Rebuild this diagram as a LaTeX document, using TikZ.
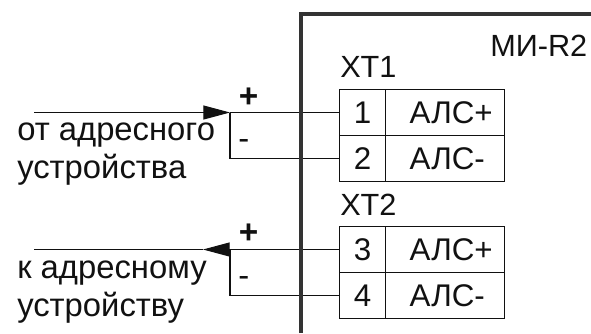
\documentclass[tikz,border=0pt]{standalone}
\usepackage{fontspec}
\setmainfont{Liberation Sans}
\usetikzlibrary{arrows.meta}
\definecolor{framegray}{HTML}{333333}
\definecolor{inkgray}{HTML}{111111}
\tikzset{
    wire/.style={draw=inkgray,line width=0.8pt},
    wiretip/.style={wire,-{Triangle[length=20pt,width=10.5pt]}},
    numcell/.style={draw=inkgray,line width=0.95pt,minimum width=34.5pt,minimum height=34.1pt,inner sep=0pt,text=inkgray,font=\fontsize{23.5}{24}\selectfont},
    alscell/.style={draw=inkgray,line width=0.95pt,minimum height=34.1pt,text width=70.9pt,inner xsep=9pt,inner ysep=0pt,align=left,text=inkgray,font=\fontsize{23.5}{24}\selectfont,execute at begin node=\hspace*{9pt}},
    caption/.style={anchor=base west,inner sep=0pt,text=inkgray,font=\fontsize{24.6}{28.5}\selectfont,align=left},
    titlecap/.style={caption,font=\fontsize{23}{28.5}\selectfont},
}
\begin{document}
\begin{tikzpicture}[x=0.75pt,y=-0.75pt]
        \useasboundingbox (0,0) rectangle (591,333);
        \node[numcell] (n1) at (362.5,112.5) {1};
        \node[numcell] (n2) at (362.5,158.5) {2};
        \node[numcell] (n3) at (362.5,249.5) {3};
        \node[numcell] (n4) at (362.5,295.5) {4};
        \node[alscell] (als1) at (445,112.5) {АЛС+};
        \node[alscell] (als2) at (445,158.5) {АЛС-};
        \node[alscell] (als3) at (445,249.5) {АЛС+};
        \node[alscell] (als4) at (445,295.5) {АЛС-};
        \coordinate (src1) at (34,112.5);
        \coordinate (tip1) at (230,112.5);
        \coordinate (src2) at (34,249.5);
        \coordinate (tip2) at (203,249.5);
        \coordinate (base2) at (230,249.5);
        \draw[wiretip] (src1) -- (tip1);
        \draw[wire] (tip1) -- (n1.west);
        \draw[wire] (tip1) |- (n2.west);
        \draw[wire] (src2) -- (tip2);
        \draw[wiretip] (base2) -- (tip2);
        \draw[wire] (base2) -- (n3.west);
        \draw[wire] (base2) |- (n4.west);
        \draw[draw=framegray,line width=3pt] (300.5,333) |- (591,14);
        \node[titlecap] (module) at (490,56.7) {МИ-R2};
        \node[titlecap] (xt1) at (340,77.7) {ХТ1};
        \node[titlecap] (xt2) at (340,215) {ХТ2};
        \node[caption] (from) at (17,178) {от адресного\\устройства};
        \node[caption] (to) at (17,316) {к адресному\\устройству};
        \node[caption,font=\fontsize{25}{28.5}\bfseries] (plus1) at (238.5,107) {+};
        \node[caption] (minus1) at (238,149) {-};
        \node[caption,font=\fontsize{25}{28.5}\bfseries] (plus2) at (238.5,243) {+};
        \node[caption] (minus2) at (238,286) {-};
    \end{tikzpicture}
\end{document}
